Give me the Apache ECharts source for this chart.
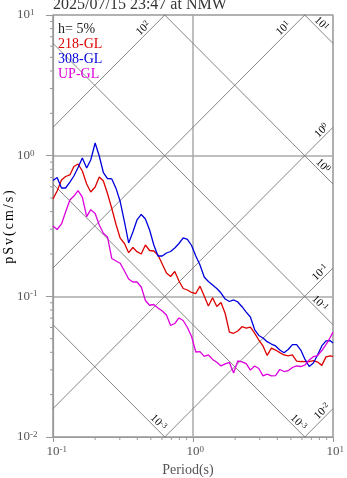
<!DOCTYPE html>
<html><head><meta charset="utf-8">
<script src="https://cdn.jsdelivr.net/npm/echarts@6/dist/echarts.min.js"></script>
<style>html,body{margin:0;padding:0;background:#fff}#c{width:347px;height:478px}</style>
</head><body><div id="c"></div>
<script>
// ---- data ----
const periods = [0.1,0.107,0.115,0.123,0.132,0.141,0.151,0.162,0.174,0.186,0.2,0.214,0.229,0.245,0.263,0.282,0.302,0.324,0.347,0.372,0.398,0.427,0.457,0.49,0.525,0.562,0.603,0.646,0.692,0.741,0.794,0.851,0.912,0.977,1.047,1.122,1.202,1.288,1.38,1.479,1.585,1.698,1.82,1.95,2.089,2.239,2.399,2.57,2.754,2.951,3.162,3.388,3.631,3.89,4.169,4.467,4.786,5.129,5.495,5.888,6.31,6.761,7.244,7.762,8.318,8.913,9.55,10];
const sv218 = [0.492,0.561,0.671,0.711,0.729,0.837,0.873,0.778,0.629,0.552,0.599,0.706,0.660,0.538,0.421,0.324,0.259,0.2375,0.2043,0.2224,0.2077,0.200,0.2317,0.2118,0.210,0.1967,0.1698,0.1465,0.1384,0.1502,0.1285,0.1137,0.1109,0.1065,0.1047,0.1181,0.1005,0.0854,0.0976,0.0847,0.0904,0.0755,0.0557,0.0546,0.0567,0.0608,0.0595,0.0605,0.0548,0.0489,0.0444,0.0380,0.0428,0.0415,0.0398,0.0383,0.0378,0.0383,0.0346,0.0344,0.0343,0.0344,0.0349,0.0341,0.0323,0.0371,0.0377,0.0374];
const sv308 = [0.666,0.700,0.589,0.589,0.649,0.717,0.824,0.963,0.817,0.932,1.231,0.995,0.759,0.688,0.683,0.585,0.472,0.338,0.2395,0.2865,0.349,0.382,0.355,0.296,0.2317,0.1935,0.1935,0.2033,0.2083,0.2206,0.2375,0.260,0.2536,0.2298,0.1935,0.167,0.1372,0.1274,0.1204,0.1137,0.1056,0.0957,0.0919,0.0942,0.0912,0.0844,0.0773,0.0713,0.0581,0.0527,0.0506,0.0476,0.0458,0.0444,0.0415,0.0397,0.0419,0.0454,0.0454,0.0415,0.0356,0.0317,0.0336,0.0383,0.0444,0.0483,0.0484,0.0466];
const svUP = [0.3163,0.2987,0.327,0.398,0.484,0.5165,0.565,0.508,0.3686,0.4134,0.388,0.3215,0.2805,0.2642,0.1857,0.1784,0.1718,0.1514,0.1328,0.1264,0.1264,0.1165,0.0934,0.0864,0.0875,0.0826,0.0786,0.0737,0.062,0.0641,0.0702,0.0673,0.060,0.0518,0.0402,0.0405,0.0374,0.0383,0.0356,0.034,0.032,0.0331,0.0339,0.0285,0.0347,0.0342,0.0332,0.0299,0.032,0.0307,0.0272,0.028,0.0272,0.0273,0.0302,0.0292,0.0296,0.0312,0.032,0.0317,0.0325,0.0353,0.0372,0.0379,0.0412,0.0454,0.051,0.0557];
const seriesNames = ['218-GL','308-GL','UP-GL'];
const dampingText = 'h= 5%';
const titleText = '2025/07/15 23:47 at NMW';
const xTitle = 'Period(s)';
const yTitle = 'pSv(cm/s)';
// tripartite guide lines: displacement (cm) and acceleration (cm/s^2)
const dispLevels = [0.001,0.01,0.1,1,10];
const dispLabelExp = ['-3','-3','-1','0','1'];
const accLevels = [0.01,0.1,1,10,100];
const accLabelExp = ['-2','-1','0','1','2'];
const xMinorTicks = [0.2,0.3,0.4,0.5,0.6,0.7,0.8,0.9,2,3,4,5,6,7,8,9];
const yMinorTicks = [0.02,0.03,0.04,0.05,0.06,0.07,0.08,0.09,0.2,0.3,0.4,0.5,0.6,0.7,0.8,0.9,2,3,4,5,6,7,8,9];

// ---- style ----
const FONT = '"Liberation Serif","Times New Roman",serif';
const dispLabelT = [0.529,5.29,7.53,7.92,7.73];
const accLabelT = [8.95,8.67,8.88,4.72,0.472];
const colors = ['#dd0000','#0000dd','#dd00dd'];

const chart = echarts.init(document.getElementById('c'));
function richSup(col, size, ssize){
  return {
    b:{fontFamily:FONT,fontSize:size,color:col,lineHeight:size+1},
    s:{fontFamily:FONT,fontSize:ssize,color:col,verticalAlign:'top',lineHeight:size+1},
    h:{fontFamily:FONT,fontSize:ssize,color:'rgba(0,0,0,0)',verticalAlign:'top',lineHeight:size+1}
  };
}
const expOf = v => String(Math.round(Math.log10(v)));
const TWO_PI = 2*Math.PI;
const guideSeries = [];
dispLevels.forEach(D => guideSeries.push({type:'line',silent:true,symbol:'none',z:1,clip:true,
  data:[[0.1,TWO_PI*D/0.1],[10,TWO_PI*D/10]],lineStyle:{color:'#777',width:0.9}}));
accLevels.forEach(A => guideSeries.push({type:'line',silent:true,symbol:'none',z:1,clip:true,
  data:[[0.1,A*0.1/TWO_PI],[10,A*10/TWO_PI]],lineStyle:{color:'#777',width:0.9}}));

const tickSeries = [
  {type:'custom',silent:true,z:3,clip:false,data:xMinorTicks.map(v=>[v,0.01]),
   renderItem:(p,api)=>{const c=api.coord([api.value(0),api.value(1)]);
     return {type:'line',shape:{x1:c[0],y1:c[1],x2:c[0],y2:c[1]+3},style:{stroke:'#999',lineWidth:1}};}},
  {type:'custom',silent:true,z:3,clip:false,data:yMinorTicks.map(v=>[0.1,v]),
   renderItem:(p,api)=>{const c=api.coord([api.value(0),api.value(1)]);
     return {type:'line',shape:{x1:c[0]-3,y1:c[1],x2:c[0],y2:c[1]},style:{stroke:'#999',lineWidth:1}};}}
];

const dataSeries = [sv218, sv308, svUP].map((arr,i)=>({
  name:seriesNames[i],type:'line',symbol:'none',z:4,clip:true,
  data:periods.map((t,j)=>[t,arr[j]]),
  lineStyle:{color:colors[i],width:1.3}
}));

chart.setOption({
  animation:false,
  grid:{left:53,right:14,top:15,bottom:41,show:true,borderColor:'#999',borderWidth:1.2,
        containLabel:false,outerBoundsMode:'none'},
  xAxis:{type:'log',logBase:10,min:0.1,max:10,
    axisLine:{show:true,lineStyle:{color:'#999',width:1.2}},
    axisTick:{show:true,length:5,lineStyle:{color:'#999'}},
    splitLine:{show:true,lineStyle:{color:'#aaa',width:1.5}},
    axisLabel:{margin:8,hideOverlap:false,formatter:v=>{const e=expOf(v);return '{h|'+e+'}{b|10}{s|'+e+'}';},rich:richSup('#555',13,9)}
  },
  yAxis:{type:'log',logBase:10,min:0.01,max:10,
    axisLine:{show:true,lineStyle:{color:'#999',width:1.2}},
    axisTick:{show:true,length:7,lineStyle:{color:'#999'}},
    splitLine:{show:true,lineStyle:{color:'#aaa',width:1.5}},
    axisLabel:{margin:36,align:'left',formatter:v=>{const e=expOf(v);return '{b|10}{s|'+e+'}';},rich:richSup('#555',13,9)}
  },
  series:[...guideSeries, ...tickSeries, ...dataSeries]
});

// labels on guide lines + texts
const graphics = [];
const labRich = richSup('#777',11,8);
dispLevels.forEach((D,i)=>{
  const T = dispLabelT[i];
  const p = chart.convertToPixel({gridIndex:0},[T,TWO_PI*D/T]);
  graphics.push({type:'text',x:p[0]+4,y:p[1]-4,rotation:-Math.PI/4,z:10,
    style:{text:'{b|10}{s|'+dispLabelExp[i]+'}',rich:labRich,align:'center',verticalAlign:'middle'}});
});
accLevels.forEach((A,i)=>{
  const T = accLabelT[i];
  const p = chart.convertToPixel({gridIndex:0},[T,A*T/TWO_PI]);
  graphics.push({type:'text',x:p[0]-4,y:p[1]-4,rotation:Math.PI/4,z:10,
    style:{text:'{b|10}{s|'+accLabelExp[i]+'}',rich:labRich,align:'center',verticalAlign:'middle'}});
});
graphics.push({type:'text',x:53,y:4.5,z:10,style:{text:titleText,font:'16px '+FONT,fill:'#333',align:'left',verticalAlign:'middle'}});
graphics.push({type:'text',x:58,y:29,z:10,style:{text:dampingText,font:'14px '+FONT,fill:'#222',align:'left',verticalAlign:'middle'}});
seriesNames.forEach((n,i)=>graphics.push({type:'text',x:58,y:44+15*i,z:10,
  style:{text:n,font:'14px '+FONT,fill:colors[i],align:'left',verticalAlign:'middle'}}));
graphics.push({type:'text',x:188,y:470,z:10,style:{text:xTitle,font:'14px '+FONT,fill:'#555',align:'center',verticalAlign:'middle'}});
graphics.push({type:'text',x:9,y:227,rotation:Math.PI/2,z:10,
  style:{text:yTitle.split('').map(c=>'{c|'+c+'}').join(''),
    rich:{c:{fontFamily:FONT,fontSize:14,color:'#555',padding:[0,1,0,1]}},align:'center',verticalAlign:'middle'}});
chart.setOption({graphic:graphics});
</script></body></html>
